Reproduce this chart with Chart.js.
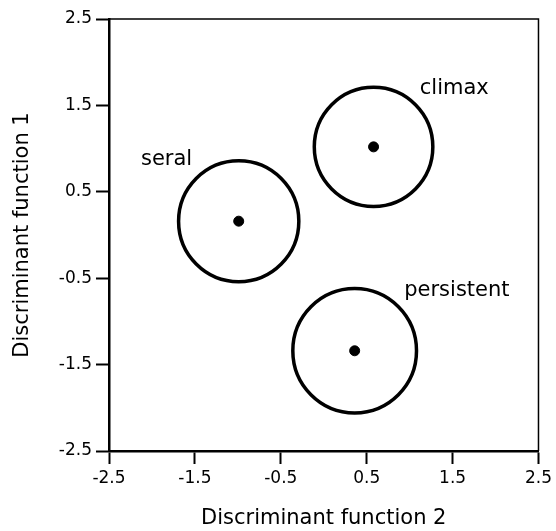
<!DOCTYPE html>
<html>
<head>
<meta charset="utf-8">
<script src="https://cdn.jsdelivr.net/npm/chart.js@4/dist/chart.umd.min.js"></script>
<style>
  html, body { margin: 0; padding: 0; background: #fff; }
  #wrap { width: 556px; height: 531px; }
</style>
</head>
<body>
<div id="wrap"><canvas id="c" width="556" height="531"></canvas></div>
<script>
// ── data ───────────────────────────────────────────────────
const groups  = ['seral', 'climax', 'persistent'];
const centerX = [-0.99, 0.58, 0.36];     // discriminant function 2
const centerY = [0.16, 1.02, -1.34];     // discriminant function 1
const radius  = [0.70, 0.69, 0.72];      // circle radius, data units
const labelX  = [-1.83, 1.52, 1.55];
const labelY  = [0.87, 1.70, -0.64];
const tickValues = [-2.5, -1.5, -0.5, 0.5, 1.5, 2.5];

const INK = '#000';
const FONT = "'DejaVu Sans', sans-serif";

// circles, group labels and the open top/right frame
const groupPlugin = {
  id: 'groups',
  afterDatasetsDraw(chart) {
    const { ctx, chartArea: A, scales: { x, y } } = chart;
    ctx.save();
    // frame top + right
    ctx.strokeStyle = INK;
    ctx.lineWidth = 1.5;
    ctx.beginPath();
    ctx.moveTo(A.left, A.top);
    ctx.lineTo(A.right, A.top);
    ctx.lineTo(A.right, A.bottom);
    ctx.stroke();

    ctx.lineWidth = 3.5;
    groups.forEach((g, i) => {
      const cx = x.getPixelForValue(centerX[i]);
      const cy = y.getPixelForValue(centerY[i]);
      const rx = Math.abs(x.getPixelForValue(centerX[i] + radius[i]) - cx);
      const ry = Math.abs(y.getPixelForValue(centerY[i] + radius[i]) - cy);
      ctx.beginPath();
      ctx.ellipse(cx, cy, rx, ry, 0, 0, Math.PI * 2);
      ctx.stroke();

      ctx.fillStyle = INK;
      ctx.font = `21px ${FONT}`;
      ctx.textAlign = 'center';
      ctx.textBaseline = 'middle';
      ctx.fillText(g, x.getPixelForValue(labelX[i]), y.getPixelForValue(labelY[i]));
    });
    ctx.restore();
  },
};

const axisCommon = (title, fixSize) => ({
  type: 'linear',
  min: -2.5,
  max: 2.5,
  afterBuildTicks(scale) { scale.ticks = tickValues.map(v => ({ value: v })); },
  afterFit: fixSize,
  ticks: {
    color: INK,
    padding: 4,
    font: { family: FONT, size: 17 },
    callback: v => v.toFixed(1),
  },
  grid: {
    drawOnChartArea: false,
    color: INK,
    tickLength: 13,
    tickWidth: 2,
  },
  border: { color: INK, width: 2.5 },
  title: {
    display: true,
    text: title,
    color: INK,
    font: { family: FONT, size: 21 },
    padding: { top: 10, bottom: 0 },
  },
});

new Chart(document.getElementById('c'), {
  type: 'scatter',
  plugins: [groupPlugin],
  data: {
    datasets: [{
      label: 'centroids',
      data: groups.map((g, i) => ({ x: centerX[i], y: centerY[i] })),
      backgroundColor: INK,
      borderColor: INK,
      pointRadius: 5,
      pointHoverRadius: 5,
    }],
  },
  options: {
    responsive: false,
    animation: false,
    layout: { padding: { top: 19, right: 13, left: 0, bottom: 0 } },
    plugins: { legend: { display: false }, tooltip: { enabled: false } },
    scales: {
      x: axisCommon('Discriminant function 2', s => { s.height = 80; }),
      y: axisCommon('Discriminant function 1', s => { s.width = 109; }),
    },
  },
});
</script>
</body>
</html>
